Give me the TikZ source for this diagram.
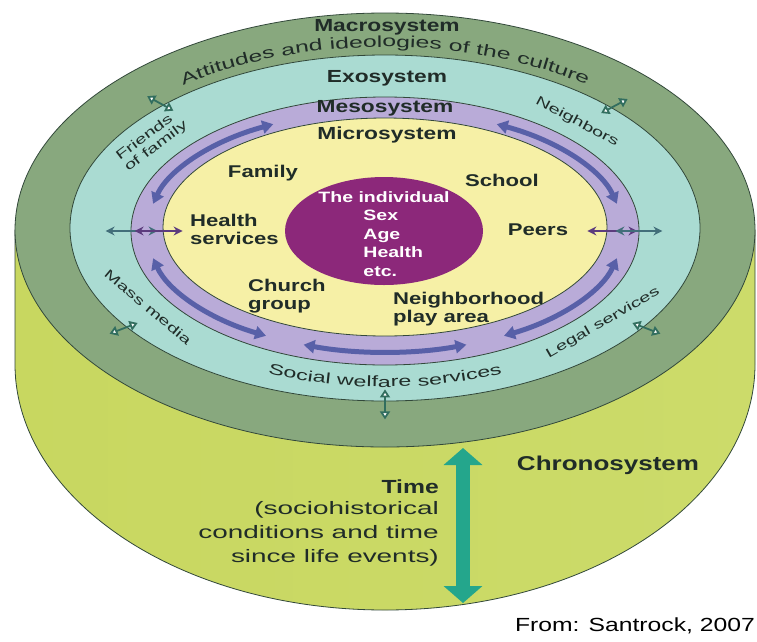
\documentclass[tikz,border=0pt]{standalone}
\usepackage{fontspec}
\setmainfont{Liberation Sans}
\newfontfamily\boldwide{Liberation Sans}[FakeStretch=1.3]
\newfontfamily\regwide{Liberation Sans}[FakeStretch=1.55]
\usetikzlibrary{arrows.meta,positioning,calc,shapes.geometric,decorations.text}
\definecolor{macroc}{RGB}{136,168,126}
\definecolor{exoc}{RGB}{170,219,210}
\definecolor{mesoc}{RGB}{185,171,216}
\definecolor{microc}{RGB}{246,240,166}
\definecolor{selfc}{RGB}{140,40,122}
\definecolor{chronoL}{RGB}{200,215,96}
\definecolor{chronoM}{RGB}{232,238,176}
\definecolor{chronoR}{RGB}{204,219,106}
\definecolor{edge}{RGB}{50,72,58}
\definecolor{ink}{RGB}{32,44,40}
\definecolor{mesoarrc}{RGB}{88,96,168}
\definecolor{timec}{RGB}{36,166,140}
\definecolor{linkc}{RGB}{50,110,95}
\definecolor{crossteal}{RGB}{66,110,122}
\definecolor{crosspurp}{RGB}{92,60,126}
\begin{document}
\begin{tikzpicture}[x=1pt, y=1pt,
  ring/.style = {ellipse, draw=edge, line width=0.8pt, inner sep=0pt},
  sysname/.style = {font=\boldwide\bfseries\fontsize{17.5}{18}\selectfont, text=ink, inner sep=0pt},
  setting/.style = {font=\boldwide\bfseries\fontsize{17}{18}\selectfont, text=ink, align=left, inner sep=0pt},
  exolbl/.style = {font=\regwide\fontsize{13}{14}\selectfont, text=ink, align=left, inner sep=0pt},
  mesoarr/.style = {{Triangle[length=11pt,width=13pt]}-{Triangle[length=11pt,width=13pt]}, line width=5pt, draw=mesoarrc},
  linkarr/.style = {{Triangle[length=8pt,width=10pt,fill=white]}-{Triangle[length=8pt,width=10pt,fill=white]}, line width=1.8pt, draw=linkc},
  crossarr/.style = {{Stealth[length=9pt,width=9pt]}-{Stealth[length=9pt,width=9pt]}, line width=2pt},
  timearr/.style = {{Triangle[length=17pt,width=38pt]}-{Triangle[length=17pt,width=38pt]}, line width=14pt, draw=timec},
]
\useasboundingbox[fill=white] (0,0) rectangle (757,-641);

\draw[edge, line width=0.8pt, left color=chronoL, middle color=chronoM, right color=chronoR]
  (15,-230) -- (15,-364) arc[start angle=180, end angle=360, x radius=370, y radius=246] -- (755,-230) -- cycle;

\node[ring, fill=macroc, minimum width=740, minimum height=434] (macro) at (385,-230) {};
\node[ring, fill=exoc, minimum width=630, minimum height=346] (exo) at (385,-228) {};
\node[ring, fill=mesoc, minimum width=508, minimum height=268] (meso) at (385,-231) {};
\node[ring, fill=microc, minimum width=444, minimum height=218] (micro) at (385,-227) {};
\node[ring, fill=selfc, draw=none, minimum width=198, minimum height=108] (self) at (384,-231) {};

\node[sysname] (macroname) at (387,-27) {Macrosystem};
\node[sysname] (exoname) at (387,-78) {Exosystem};
\node[sysname] (mesoname) at (385,-108) {Mesosystem};
\node[sysname] (microname) at (387,-135) {Microsystem};
\node[sysname, font=\boldwide\bfseries\fontsize{20}{20}\selectfont] (chrono) at (608,-465) {Chronosystem};

\path[decorate, decoration={text along path, text align=center,
    text={|\regwide\fontsize{16}{16}\selectfont\color{ink}|Attitudes and ideologies of the culture}}]
  ($(macro.center)+(140:330 and 183)$) arc[start angle=140, end angle=40, x radius=330, y radius=183];
\path[decorate, decoration={text along path, text align=center,
    text={|\regwide\fontsize{15}{15}\selectfont\color{ink}|Social welfare services}}]
  ($(exo.center)+(232:290 and 159)$) arc[start angle=232, end angle=308, x radius=290, y radius=159];

\node[exolbl, rotate=37] (friends) at (152,-141) {Friends\\of family};
\node[exolbl, rotate=-28] (neigh) at (577,-122) {Neighbors};
\node[exolbl, rotate=-40] (media) at (148,-307) {Mass media};
\node[exolbl, rotate=30] (legal) at (603,-323) {Legal services};

\node[setting] (family) at (263,-173) {Family};
\node[setting] (school) at (502,-180) {School};
\node[setting] (peers) at (538,-230) {Peers};
\node[setting, anchor=west] (health) at (190,-229) {Health\\services};
\node[setting, anchor=west] (church) at (248,-296) {Church\\group};
\node[setting, anchor=west] (hood) at (393,-309) {Neighborhood\\play area};

\node[font=\boldwide\bfseries\fontsize{15}{18.5}\selectfont, text=white, align=left, inner sep=0pt] (selftxt) at ($(self.center)+(0,-3)$)
  {The individual\\\hspace*{45pt}Sex\\\hspace*{45pt}Age\\\hspace*{45pt}Health\\\hspace*{45pt}etc.};

\foreach \a/\b in {167/118, 62/13, 193/240, 250/290, 300/347}
  \draw[mesoarr] ($(meso.center)+(\a:238 and 121)$) arc[start angle=\a, end angle=\b, x radius=238, y radius=121];

\draw[crossarr, crossteal] ($(meso.west)+(-25,0)$) -- ($(meso.west)+(27,0)$);
\draw[crossarr, crosspurp] ($(meso.west)+(4,0)$) -- ($(meso.west)+(52,0)$);
\draw[crossarr, crosspurp] ($(meso.east)+(-52,0)$) -- ($(meso.east)+(-2,0)$);
\draw[crossarr, crossteal] ($(meso.east)+(-24,0)$) -- ($(meso.east)+(23,0)$);

\foreach \a in {151,28,201,339,270}
  \draw[linkarr] ($(exo.\a)!-18pt!(exo.center)$) -- ($(exo.\a)!12pt!(exo.center)$);

\coordinate (ttop) at (463,-448);
\coordinate (tbot) at (463,-603);
\draw[timearr] (ttop) -- (tbot);

\node[sysname, font=\boldwide\bfseries\fontsize{19}{19}\selectfont, anchor=base east] (timename) at (439,-493.5) {Time};
\node[font=\regwide\fontsize{18}{24}\selectfont, text=ink, align=right, inner sep=0pt,
  below=7.5pt of timename.south east, anchor=north east] (timetxt)
  {(sociohistorical\\conditions and time\\since life events)};

\node[font=\boldwide\fontsize{19}{19}\selectfont, anchor=east, inner sep=0pt] (src) at (755,-626) {From: Santrock, 2007};
\end{tikzpicture}
\end{document}
